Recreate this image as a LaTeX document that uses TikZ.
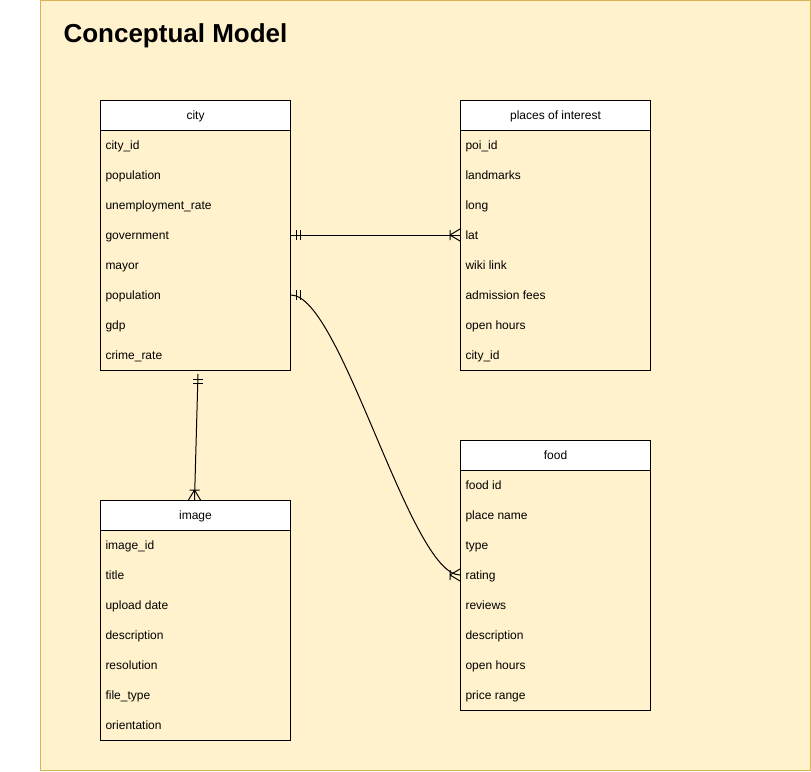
\documentclass[tikz,border=0pt]{standalone}
\usepackage{fontspec}
\setmainfont{Liberation Sans}
\usetikzlibrary{calc}
\definecolor{bgfill}{HTML}{FFF2CC}
\definecolor{bgline}{HTML}{D6B656}
\begin{document}
\begin{tikzpicture}[x=1pt,y=-1pt,line width=1pt,
  hdr/.style={draw,fill=white,minimum width=190pt,minimum height=30pt,inner sep=0pt,anchor=north west,font=\fontsize{12}{14}\selectfont},
  body/.style={draw,minimum width=190pt,inner sep=0pt,anchor=north west},
  row/.style={anchor=west,inner sep=0pt,text height=10pt,text depth=1.5pt,font=\fontsize{12}{14}\selectfont},
  mone/.pic={\draw[line width=1pt] (5,-5)--(5,5) (9,-5)--(9,5);},
  many/.pic={\draw[line width=1pt] (-10,-5)--(-10,5) (-10,0)--(0,-6) (-10,0)--(0,6);}
]
\useasboundingbox (0,0) rectangle (811,771);
\draw[fill=bgfill,draw=bgline] (40.5,0.5) rectangle (810.5,770.5);
\node[anchor=west,inner sep=0pt,text height=19pt,text depth=5pt,font=\fontsize{26}{30}\selectfont\bfseries] (title) at (63,35) {Conceptual Model};

% city
\node[hdr] (city) at (100,100) {};
\node[row,anchor=center] (city-t) at (city.center) {city};
\node[body,minimum height=240pt] (cityb) at (100,130) {};
\foreach \t/\n [count=\i from 0] in {city\_id/id,population/pop,unemployment\_rate/unemp,government/gov,mayor/mayor,population/pop2,gdp/gdp,crime\_rate/crime}
  \node[row] (city-\n) at (105,145+30*\i) {\t};

% places of interest
\node[hdr] (poi) at (460,100) {};
\node[row,anchor=center] (poi-t) at (poi.center) {places of interest};
\node[body,minimum height=240pt] (poib) at (460,130) {};
\foreach \t/\n [count=\i from 0] in {poi\_id/id,landmarks/land,long/long,lat/lat,wiki link/wiki,admission fees/fees,open hours/hours,city\_id/city}
  \node[row] (poi-\n) at (465,145+30*\i) {\t};

% food
\node[hdr] (food) at (460,440) {};
\node[row,anchor=center] (food-t) at (food.center) {food};
\node[body,minimum height=240pt] (foodb) at (460,470) {};
\foreach \t/\n [count=\i from 0] in {food id/id,place name/place,type/type,rating/rating,reviews/reviews,description/desc,open hours/hours,price range/price}
  \node[row] (food-\n) at (465,485+30*\i) {\t};

% image
\node[hdr] (image) at (100,500) {};
\node[row,anchor=center] (image-t) at (image.center) {image};
\node[body,minimum height=210pt] (imageb) at (100,530) {};
\foreach \t/\n [count=\i from 0] in {image\_id/id,title/title,upload date/date,description/desc,resolution/res,file\_type/type,orientation/orient}
  \node[row] (image-\n) at (105,545+30*\i) {\t};

% connectors
\coordinate (c1s) at (city-gov -| cityb.east);
\coordinate (c1e) at (poi-lat -| poib.west);
\draw (c1s) -- (c1e);
\pic at (c1s) {mone};
\pic at (c1e) {many};

\coordinate (c2s) at (city-pop2 -| cityb.east);
\coordinate (c2e) at (food-rating -| foodb.west);
\draw (c2s) .. controls +(50,0) and +(-50,0) .. (c2e);
\pic at (c2s) {mone};
\pic at (c2e) {many};

\coordinate (c3s) at ([xshift=2.5pt,yshift=-3pt]cityb.south);
\coordinate (c3e) at ([xshift=-1pt]image.north);
\draw (c3s) -- (c3e);
\pic[rotate=-90] at (c3s) {mone};
\pic[rotate=-90] at (c3e) {many};
\end{tikzpicture}
\end{document}
